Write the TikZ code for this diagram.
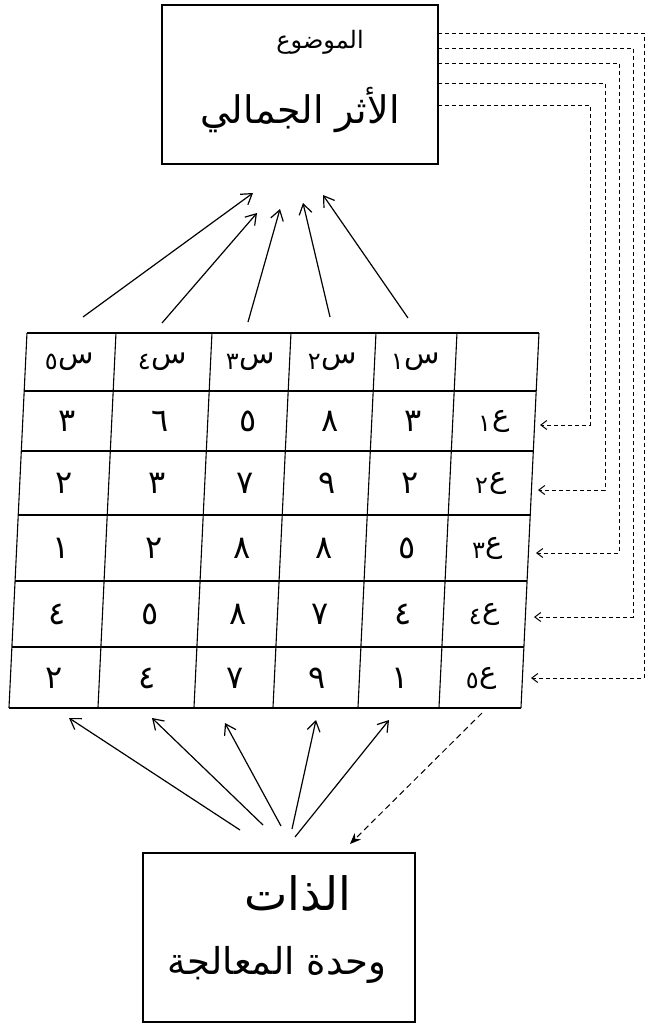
\documentclass[tikz,border=0pt]{standalone}
\usepackage{fontspec}
\TeXXeTstate=1
\newfontfamily\arabicfont[Script=Arabic]{DejaVu Sans}
\usetikzlibrary{arrows.meta}
\newcommand\artxt[1]{{\arabicfont\beginR #1\endR}}
\newcommand\subar[2]{{\arabicfont\beginR #1\kern1pt\lower6pt\hbox{\fontsize{24}{24}\selectfont #2}\endR}}
\tikzset{
  box/.style={draw=black, line width=1.2pt, inner sep=0pt},
  gridline/.style={draw=black, line width=1.1pt},
  solidarrow/.style={draw=black, line width=1.2pt, -{Straight Barb[length=10pt,width=13pt,line width=1.2pt]}},
  feedarrow/.style={draw=black, line width=0.8pt, dash pattern=on 4pt off 3pt, -{Straight Barb[length=6pt,width=9pt,line width=1pt]}},
  downarrow/.style={draw=black, line width=1pt, dash pattern=on 6pt off 4pt, -{Stealth[length=11pt,width=9pt]}},
  cell/.style={inner sep=0pt, font=\arabicfont\fontsize{32}{32}\selectfont},
  head/.style={inner sep=0pt, font=\arabicfont\fontsize{29}{29}\selectfont}
}
\begin{document}
\begin{tikzpicture}[x=1pt,y=-1pt]
\useasboundingbox (0,0) rectangle (647,1025);
\fill[white] (0,0) rectangle (647,1025);

% top box
\node[box, minimum width=276pt, minimum height=159pt] (obj) at (300,84.5) {};
\node[inner sep=0pt, font=\arabicfont\fontsize{24}{24}\selectfont] (objA) at (320,42) {\artxt{الموضوع}};
\node[inner sep=0pt, font=\arabicfont\fontsize{38}{38}\selectfont] (objB) at (300,110) {\artxt{الأثر الجمالي}};

% bottom box
\node[box, minimum width=272pt, minimum height=169pt] (self) at (279,937.5) {};
\node[inner sep=0pt, font=\arabicfont\fontsize{46}{46}\selectfont] (selfA) at (298,893) {\artxt{الذات}};
\node[inner sep=0pt, font=\arabicfont\fontsize{37}{37}\selectfont] (selfB) at (277,965) {\artxt{وحدة المعالجة}};

% table (slightly slanted, hand drawn)
\begin{scope}[cm={1,0,0.048,1,(24.96pt,0pt)}]
  \foreach \x in {18,107,203,282,367,448,530} \draw[gridline] (\x,333) -- (\x,708);
  \foreach \y in {333,391,451,515,581,647,708} \draw[gridline] (18,\y) -- (530,\y);
  % headers
  \node[head] (h5) at (62,362) {\subar{س}{٥}};
  \node[head] (h4) at (155,362) {\subar{س}{٤}};
  \node[head] (h3) at (243,362) {\subar{س}{٣}};
  \node[head] (h2) at (325,362) {\subar{س}{٢}};
  \node[head] (h1) at (408,362) {\subar{س}{١}};
  % row labels
  \node[head] (r1) at (489,421) {\subar{ع}{١}};
  \node[head] (r2) at (489,483) {\subar{ع}{٢}};
  \node[head] (r3) at (489,548) {\subar{ع}{٣}};
  \node[head] (r4) at (489,614) {\subar{ع}{٤}};
  \node[head] (r5) at (489,678) {\subar{ع}{٥}};
  % values
  \foreach \v [count=\i] in {٣,٦,٥,٨,٣} {
    \pgfmathsetmacro\cx{{62,155,243,325,408}[\i-1]}
    \node[cell] (a1\i) at (\cx,421) {\v};}
  \foreach \v [count=\i] in {٢,٣,٧,٩,٢} {
    \pgfmathsetmacro\cx{{62,155,243,325,408}[\i-1]}
    \node[cell] (a2\i) at (\cx,483) {\v};}
  \foreach \v [count=\i] in {١,٢,٨,٨,٥} {
    \pgfmathsetmacro\cx{{62,155,243,325,408}[\i-1]}
    \node[cell] (a3\i) at (\cx,548) {\v};}
  \foreach \v [count=\i] in {٤,٥,٨,٧,٤} {
    \pgfmathsetmacro\cx{{62,155,243,325,408}[\i-1]}
    \node[cell] (a4\i) at (\cx,614) {\v};}
  \foreach \v [count=\i] in {٢,٤,٧,٩,١} {
    \pgfmathsetmacro\cx{{62,155,243,325,408}[\i-1]}
    \node[cell] (a5\i) at (\cx,678) {\v};}
\end{scope}

% arrows table -> top box
\coordinate (u1s) at (83,317);  \coordinate (u1e) at (253,193);
\coordinate (u2s) at (162,323); \coordinate (u2e) at (257,213);
\coordinate (u3s) at (248,322); \coordinate (u3e) at (280,209);
\coordinate (u4s) at (330,317); \coordinate (u4e) at (303,203);
\coordinate (u5s) at (408,318); \coordinate (u5e) at (323,195);
\foreach \k in {1,...,5} \draw[solidarrow] (u\k s) -- (u\k e);

% arrows bottom box -> table
\coordinate (b1s) at (240,830); \coordinate (b1e) at (69,718);
\coordinate (b2s) at (263,825); \coordinate (b2e) at (152,718);
\coordinate (b3s) at (281,826); \coordinate (b3e) at (225,723);
\coordinate (b4s) at (292,829); \coordinate (b4e) at (316,720);
\coordinate (b5s) at (295,837); \coordinate (b5e) at (389,720);
\foreach \k in {1,...,5} \draw[solidarrow] (b\k s) -- (b\k e);

% dashed arrow table -> bottom box
\coordinate (ds) at (482,713); \coordinate (de) at (350,844);
\draw[downarrow] (ds) -- (de);

% feedback dashed lines from top box to rows
\coordinate (o1) at (438,105); \coordinate (c1) at (590,425); \coordinate (t1) at (540,425);
\coordinate (o2) at (438,83);  \coordinate (c2) at (605,490); \coordinate (t2) at (538,490);
\coordinate (o3) at (438,63);  \coordinate (c3) at (619,553); \coordinate (t3) at (536,553);
\coordinate (o4) at (438,48);  \coordinate (c4) at (633,617); \coordinate (t4) at (534,617);
\coordinate (o5) at (438,33);  \coordinate (c5) at (644,678); \coordinate (t5) at (531,678);
\foreach \k in {1,...,5} \draw[feedarrow] (o\k) -| (c\k) -- (t\k);
\end{tikzpicture}
\end{document}
